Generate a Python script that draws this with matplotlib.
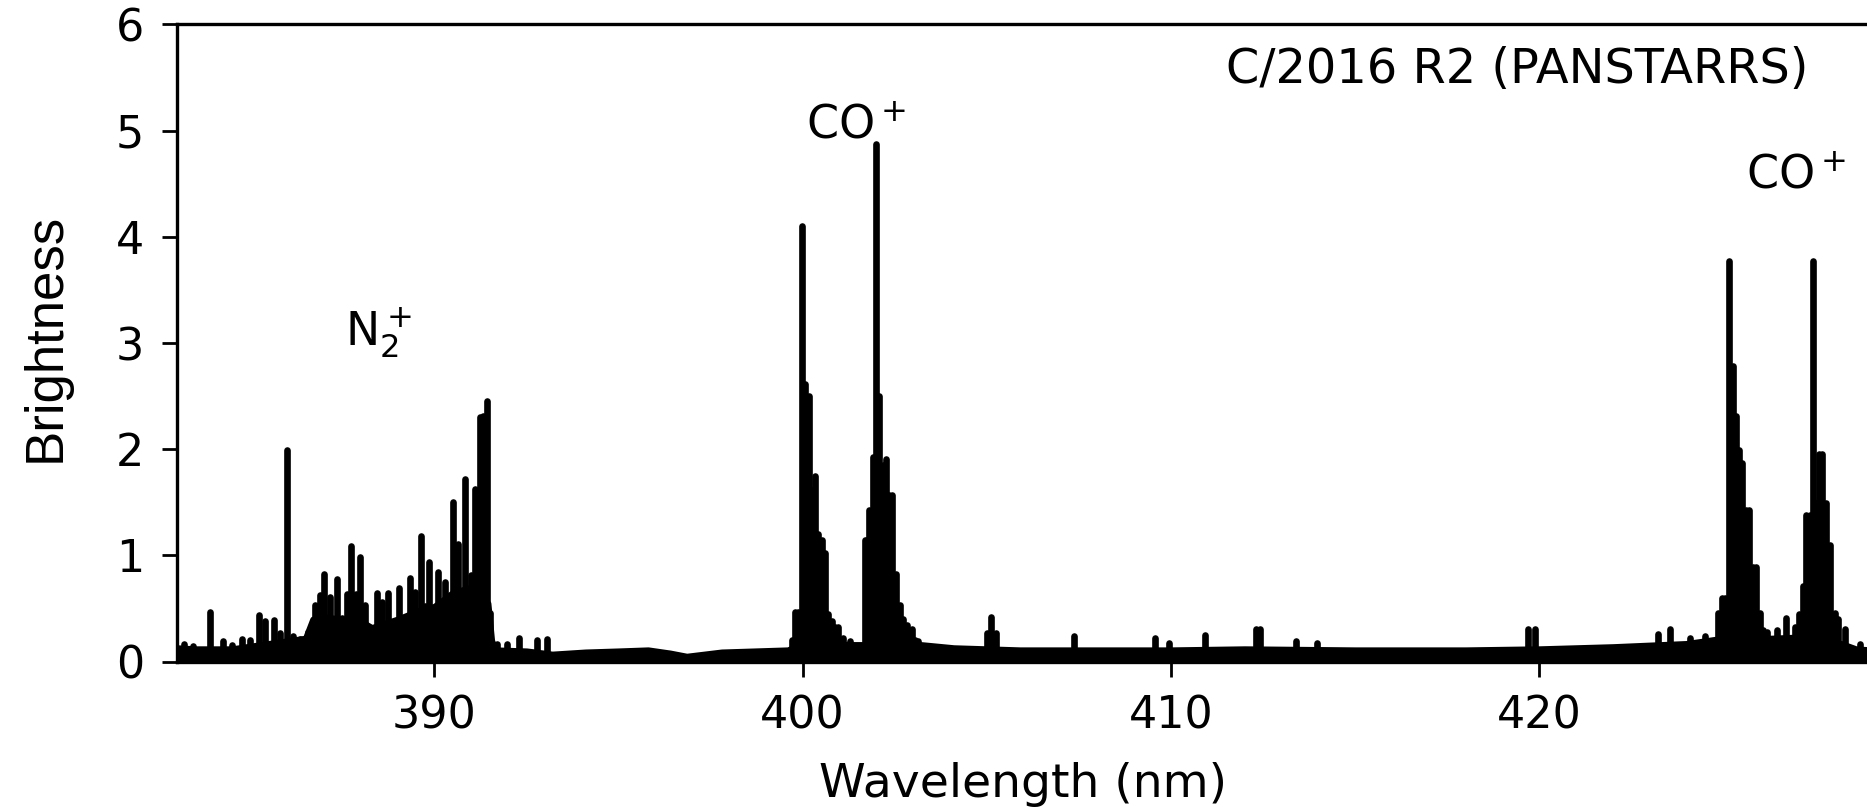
import numpy as np
import matplotlib.pyplot as plt

# upper edge of the blended floor of the spectrum (solid black band)
base_wl = [383.0, 383.5, 384.5, 385.5, 386.5, 386.7, 387.0, 388.0, 388.3, 389.0,
           389.5, 390.0, 390.5, 391.0, 391.45, 391.55, 391.65, 392.5, 393.2, 394.1,
           395.0, 395.8, 396.4, 396.85, 397.8, 398.7, 399.6, 400.0, 401.4, 403.2,
           404.1, 405.9, 408.0, 410.0, 412.0, 415.0, 418.0, 420.0, 422.0, 424.0,
           425.0, 426.3, 427.0, 428.2, 428.6, 429.0]
base_top = [0.13, 0.12, 0.12, 0.17, 0.22, 0.4, 0.42, 0.38, 0.32, 0.4,
            0.47, 0.52, 0.65, 0.7, 0.55, 0.2, 0.11, 0.1, 0.07, 0.09,
            0.1, 0.11, 0.08, 0.05, 0.09, 0.1, 0.11, 0.17, 0.16, 0.16,
            0.13, 0.11, 0.11, 0.11, 0.12, 0.11, 0.11, 0.12, 0.14, 0.17,
            0.22, 0.22, 0.23, 0.17, 0.12, 0.11]

# N2+ band and neighbouring lines
n2_wl = [383.2, 383.45, 383.9, 384.27, 384.5, 384.77, 385.0, 385.25, 385.4, 385.64,
         385.8, 386.0, 386.17, 386.35, 386.58, 386.76, 386.9, 387.0, 387.16, 387.35,
         387.5, 387.62, 387.74, 387.87, 387.98, 388.12, 388.3, 388.43, 388.59, 388.75,
         388.89, 389.05, 389.2, 389.34, 389.48, 389.63, 389.75, 389.86, 389.96, 390.09,
         390.29, 390.5, 390.65, 390.83, 390.99, 391.1, 391.24, 391.33, 391.44, 391.51,
         391.7, 391.98, 392.31, 392.78, 393.05]
n2_h = [0.17, 0.15, 0.47, 0.19, 0.16, 0.21, 0.2, 0.44, 0.38, 0.39,
        0.27, 1.99, 0.24, 0.21, 0.28, 0.53, 0.63, 0.83, 0.61, 0.78,
        0.41, 0.64, 1.09, 0.64, 0.99, 0.53, 0.31, 0.65, 0.56, 0.65,
        0.34, 0.69, 0.41, 0.79, 0.66, 1.18, 0.52, 0.94, 0.39, 0.84,
        0.75, 1.5, 1.11, 1.72, 0.82, 1.63, 2.30, 2.31, 2.45, 0.46,
        0.17, 0.17, 0.22, 0.20, 0.21]

# CO+ bands near 400 and 402 nm
co1_wl = [399.70, 399.79, 399.88, 399.98, 400.07, 400.16, 400.25, 400.34, 400.43, 400.52,
          400.61, 400.70, 400.79, 400.88, 400.97, 401.1, 401.29,
          401.69, 401.74, 401.81, 401.90, 401.99, 402.08, 402.17, 402.26, 402.35,
          402.42, 402.54, 402.64, 402.73, 402.83, 402.96, 403.05, 403.14]
co1_h = [0.2, 0.47, 0.47, 4.10, 2.61, 2.50, 1.62, 1.75, 1.20, 1.15,
         1.02, 0.45, 0.38, 0.33, 0.33, 0.22, 0.19,
         1.15, 1.15, 1.43, 1.93, 4.87, 2.50, 1.85, 1.91, 1.57,
         1.57, 0.83, 0.53, 0.40, 0.35, 0.31, 0.20, 0.19]

# weak lines in the middle
weak_wl = [405.0, 405.12, 405.25, 407.37, 409.57, 409.96, 410.93, 412.3, 412.42, 413.4,
           413.96, 419.7, 419.89, 423.23, 423.55, 424.1, 424.5]
weak_h = [0.27, 0.42, 0.27, 0.245, 0.22, 0.18, 0.25, 0.31, 0.31, 0.19,
          0.18, 0.31, 0.31, 0.26, 0.31, 0.22, 0.24]

# CO+ bands near 425 and 427 nm
co2_wl = [424.87, 424.96, 425.06, 425.16, 425.27, 425.34, 425.43, 425.52, 425.61, 425.70,
          425.81, 425.90, 425.99, 426.08, 426.2,
          426.47, 426.70, 426.96, 427.07, 427.16, 427.25, 427.35, 427.44, 427.53, 427.60,
          427.67, 427.80, 427.91, 428.03, 428.12, 428.30, 428.71]
co2_h = [0.46, 0.60, 0.60, 3.77, 2.78, 2.31, 1.99, 1.87, 1.43, 1.43,
         0.89, 0.89, 0.46, 0.30, 0.28,
         0.30, 0.41, 0.33, 0.45, 0.71, 1.38, 1.38, 3.77, 1.49, 1.96,
         1.96, 1.49, 1.10, 0.46, 0.40, 0.31, 0.17]

line_wl = n2_wl + co1_wl + weak_wl + co2_wl
line_h = n2_h + co1_h + weak_h + co2_h

fig = plt.figure(figsize=(18.67, 8.08), dpi=100)
ax = fig.add_axes([0.0946, 0.1811, 0.9073, 0.7886])

ax.fill_between(base_wl, 0, base_top, facecolor='k', edgecolor='k', lw=4.5,
                joinstyle='round')
lines = ax.vlines(line_wl, 0, line_h, colors='k', lw=4.8)
lines.set_capstyle('round')

ax.set_xlim(383.0, 429.0)
ax.set_ylim(0, 6)
ax.set_xticks([390, 400, 410, 420])
ax.set_yticks(np.arange(0, 7, 1))
ax.tick_params(labelsize=32, length=11, width=2, pad=12.5)
for sp in ax.spines.values():
    sp.set_linewidth(2.4)

ax.text(387.58, 2.98, 'N$_2^+$', fontsize=33, ha='left', va='baseline')
ax.text(400.09, 4.93, 'CO$^+$', fontsize=33, ha='left', va='baseline')
ax.text(425.62, 4.46, 'CO$^+$', fontsize=33, ha='left', va='baseline')
ax.text(411.5, 5.45, 'C/2016 R2 (PANSTARRS)', fontsize=34.5, ha='left', va='baseline')

fig.text(0.5481, 0.014, 'Wavelength (nm)', fontsize=34, ha='center', va='baseline')
fig.text(0.0246, 0.5823, 'Brightness', fontsize=38, family='Liberation Sans',
         rotation=90, ha='center', va='center')

fig.savefig('out.png', dpi=100)
